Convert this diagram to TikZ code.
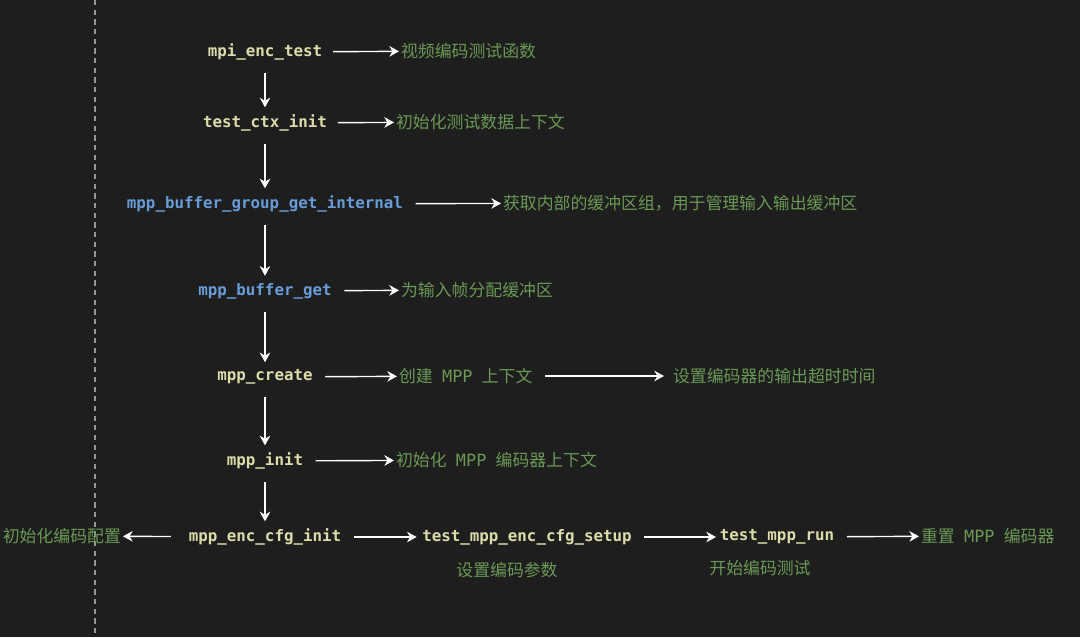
\documentclass[tikz,border=0pt]{standalone}
\usepackage{fontspec}
\setmonofont{DejaVu Sans Mono}
\newfontfamily\cjk{Noto Sans CJK SC}
\newfontfamily\mppmono{DejaVu Sans Mono}
\usetikzlibrary{arrows.meta}
\definecolor{bgdark}{RGB}{30,30,30}
\definecolor{fnyellow}{RGB}{220,220,170}
\definecolor{fnblue}{RGB}{104,156,216}
\definecolor{cmtgreen}{RGB}{106,153,85}
\definecolor{rulegray}{RGB}{150,150,150}
\newcommand{\mppname}{\hspace{0.55em}{\mppmono MPP}\hspace{0.55em}}
\tikzset{
  fn/.style={text=fnyellow, font=\ttfamily\bfseries\fontsize{9}{11}\selectfont, inner xsep=1pt, inner ysep=2pt},
  fnb/.style={fn, text=fnblue},
  cmt/.style={text=cmtgreen, font=\cjk\fontsize{9.6}{12}\selectfont, inner xsep=1pt, inner ysep=2pt},
  flow/.style={draw=white, line width=0.8pt, -{Stealth[length=5.5pt,width=6pt]}},
}
\begin{document}
\begin{tikzpicture}[x=0.02cm,y=-0.02cm]
        \useasboundingbox[fill=bgdark] (0,0) rectangle (1080,637);
        % left guide line
        \draw[rulegray, line width=0.6pt, dash pattern=on 3pt off 2.5pt] (95,0) -- (95,637);
        % main call chain
        \node[fn]  (enctest) at (265,52)  {mpi\_enc\_test};
        \node[fn]  (ctxinit) at (265,123) {test\_ctx\_init};
        \node[fnb] (bufgrp)  at (265,204) {mpp\_buffer\_group\_get\_internal};
        \node[fnb] (bufget)  at (265,291) {mpp\_buffer\_get};
        \node[fn]  (create)  at (265,377) {mpp\_create};
        \node[fn]  (init)    at (265,461) {mpp\_init};
        \node[fn]  (cfginit) at (265,537) {mpp\_enc\_cfg\_init};
        \node[fn]  (cfgsetup) at (527,537) {test\_mpp\_enc\_cfg\_setup};
        \node[fn]  (run)     at (777,537) {test\_mpp\_run};
        % comments
        \node[cmt, anchor=west] (c1) at (399,51)  {视频编码测试函数};
        \node[cmt, anchor=west] (c2) at (394,122) {初始化测试数据上下文};
        \node[cmt, anchor=west] (c3) at (501,203) {获取内部的缓冲区组，用于管理输入输出缓冲区};
        \node[cmt, anchor=west] (c4) at (399,290) {为输入帧分配缓冲区};
        \node[cmt, anchor=west] (c5) at (397,376) {创建\mppname{}上下文};
        \node[cmt, anchor=west] (c6) at (671,376) {设置编码器的输出超时时间};
        \node[cmt, anchor=west] (c7) at (394,460) {初始化\mppname{}编码器上下文};
        \node[cmt, anchor=east] (c8) at (123,536) {初始化编码配置};
        \node[cmt] (c9)  at (507,570) {设置编码参数};
        \node[cmt] (c10) at (760,568) {开始编码测试};
        \node[cmt, anchor=west] (c11) at (919,536) {重置\mppname{}编码器};
        % vertical arrows
        \draw[flow, shorten <=5pt, shorten >=2pt] (enctest) -- (ctxinit);
        \draw[flow, shorten <=5pt, shorten >=2pt] (ctxinit) -- (bufgrp);
        \draw[flow, shorten <=5pt, shorten >=2pt] (bufgrp) -- (bufget);
        \draw[flow, shorten <=5pt, shorten >=2pt] (bufget) -- (create);
        \draw[flow, shorten <=5pt, shorten >=2pt] (create) -- (init);
        \draw[flow, shorten <=5pt, shorten >=2pt] (init) -- (cfginit);
        % side arrows
        \draw[flow, shorten <=5pt] (enctest) -- (c1);
        \draw[flow, shorten <=5pt] (ctxinit) -- (c2);
        \draw[flow, shorten <=6pt] (bufgrp) -- (c3);
        \draw[flow, shorten <=6pt] (bufget) -- (c4);
        \draw[flow, shorten <=6pt] (create) -- (c5);
        \draw[flow, shorten <=6pt, shorten >=4pt] (c5) -- (c6);
        \draw[flow, shorten <=6pt] (init) -- (c7);
        \draw[flow, shorten <=9pt] (cfginit) -- (c8);
        \draw[flow, shorten <=6pt, shorten >=2pt] (cfginit) -- (cfgsetup);
        \draw[flow, shorten <=6pt, shorten >=1pt] (cfgsetup) -- (run);
        \draw[flow, shorten <=6pt] (run) -- (c11);
      \end{tikzpicture}
\end{document}
